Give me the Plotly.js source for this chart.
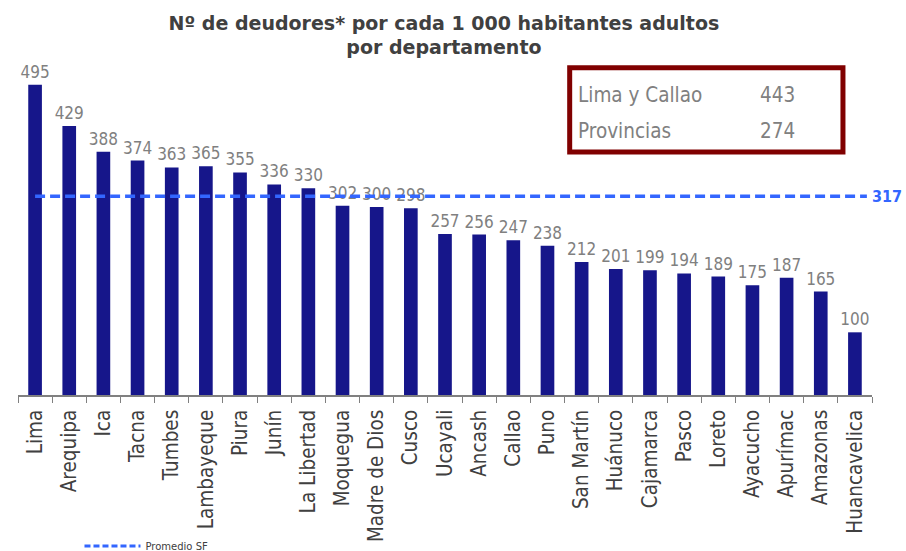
<!DOCTYPE html>
<html><head><meta charset="utf-8">
<script src="https://cdn.plot.ly/plotly-3.0.1.min.js"></script>
<style>body{margin:0;background:#fff}#c{width:906px;height:551px}</style>
</head><body><div id="c"></div>
<script>
const departamentos = ["Lima","Arequipa","Ica","Tacna","Tumbes","Lambayeque","Piura","Junín","La Libertad","Moquegua","Madre de Dios","Cusco","Ucayali","Ancash","Callao","Puno","San Martín","Huánuco","Cajamarca","Pasco","Loreto","Ayacucho","Apurímac","Amazonas","Huancavelica"];
const deudores = [495,429,388,374,363,365,355,336,330,302,300,298,257,256,247,238,212,201,199,194,189,175,187,165,100];
const promedioSF = 317;
const resumenNombres = ["Lima y Callao","Provincias"];
const resumenValores = [443,274];

const font = "'DejaVu Sans Condensed', 'DejaVu Sans', sans-serif";
const traces = [
  {type:"bar", x:departamentos, y:deudores, text:deudores.map(String), textposition:"outside",
   constraintext:"none", cliponaxis:false, textfont:{family:font,size:17,color:"#808080"},
   marker:{color:"#16168a"}, showlegend:false, hoverinfo:"x+y"},
  {type:"scatter", mode:"lines", x:[null], y:[null], name:"Promedio SF",
   line:{color:"#3366ff", width:3, dash:"6px,3px"}, showlegend:true}
];
const shapes = [
  {type:"line", xref:"paper", yref:"y", x0:0.02, x1:0.994, y0:promedioSF, y1:promedioSF,
   line:{color:"#3366ff", width:3.5, dash:"10px,5px"}},
  {type:"rect", xref:"paper", yref:"paper", x0:0.646, x1:0.966, y0:0.692, y1:0.932,
   line:{color:"#800000", width:5}}
];
const annotations = [
  {xref:"paper", yref:"y", x:1.038, y:promedioSF, xanchor:"right", yanchor:"middle", showarrow:false,
   text:"<b>"+promedioSF+"</b>", font:{family:"'Liberation Sans Narrow', 'DejaVu Sans Condensed', sans-serif",size:16,color:"#3366ff"}}
];
resumenNombres.forEach((n,i)=>{
  annotations.push({xref:"paper", yref:"paper", x:0.653, y:0.855-i*0.103, xanchor:"left", yanchor:"middle",
    showarrow:false, text:n, font:{family:font,size:20.5,color:"#808080"}});
  annotations.push({xref:"paper", yref:"paper", x:0.866, y:0.855-i*0.103, xanchor:"left", yanchor:"middle",
    showarrow:false, text:String(resumenValores[i]), font:{family:font,size:20.5,color:"#808080"}});
});
const layout = {
  width:906, height:551,
  margin:{l:18, r:34, t:44, b:156, autoexpand:false},
  paper_bgcolor:"#fff", plot_bgcolor:"#fff",
  title:{text:"<b>Nº de deudores* por cada 1 000 habitantes adultos<br>por departamento</b>",
    x:0.49, xanchor:"center", y:0.946, yanchor:"top", font:{family:"'DejaVu Sans', sans-serif",size:19,color:"#404040"}},
  bargap:0.6,
  xaxis:{type:"category", tickangle:-90, tickfont:{family:font,size:20.5,color:"#404040"},
    showline:true, linecolor:"#808080", linewidth:1.5, ticks:"outside", tickson:"boundaries",
    ticklen:6, tickcolor:"#808080", showgrid:false, automargin:false, ticklabelstandoff:5},
  yaxis:{range:[0,560], visible:false, showgrid:false, zeroline:false},
  showlegend:true,
  legend:{x:0.072, y:-0.43, xanchor:"left", yanchor:"middle", orientation:"h", itemwidth:56,
    font:{family:"'DejaVu Sans', sans-serif",size:10,color:"#404040"}, bgcolor:"rgba(0,0,0,0)"},
  shapes:shapes, annotations:annotations
};
Plotly.newPlot("c", traces, layout, {displayModeBar:false, staticPlot:true});
</script></body></html>
